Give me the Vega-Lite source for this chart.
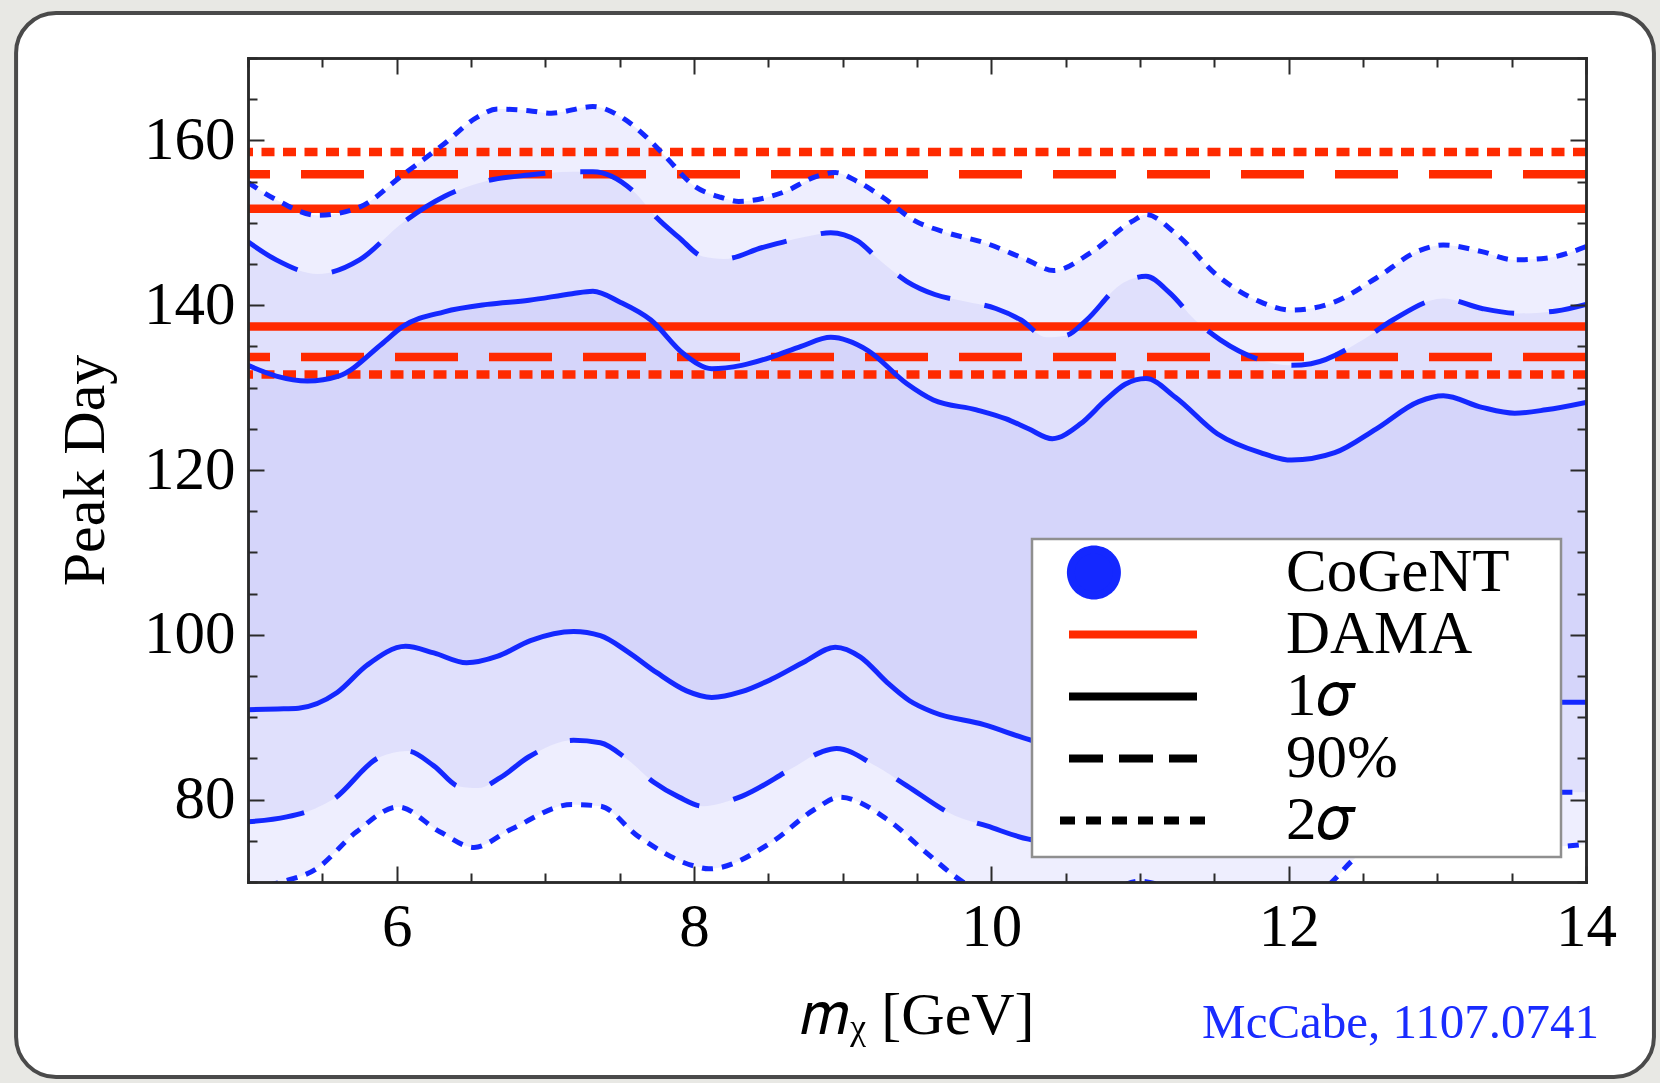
{
  "$schema": "https://vega.github.io/schema/vega-lite/v6.json",
  "width": 1338,
  "height": 824,
  "autosize": {"type": "none"},
  "padding": {"left": 248, "top": 58, "right": 74, "bottom": 201},
  "background": "#e8e8e4",
  "title": {
    "text": "McCabe, 1107.0741",
    "orient": "bottom",
    "anchor": "end",
    "frame": "group",
    "font": "Liberation Serif",
    "fontSize": 49,
    "fontWeight": "normal",
    "color": "#1a2cff",
    "offset": -80,
    "dx": 13,
    "zindex": 3
  },
  "datasets": {
    "cogent": [
      {"m": 5.0, "day": 154.9, "level": "2σ", "side": "upper"},
      {"m": 5.19, "day": 152.8, "level": "2σ", "side": "upper"},
      {"m": 5.47, "day": 150.9, "level": "2σ", "side": "upper"},
      {"m": 5.75, "day": 151.9, "level": "2σ", "side": "upper"},
      {"m": 6.04, "day": 155.8, "level": "2σ", "side": "upper"},
      {"m": 6.32, "day": 159.6, "level": "2σ", "side": "upper"},
      {"m": 6.54, "day": 162.8, "level": "2σ", "side": "upper"},
      {"m": 6.68, "day": 163.8, "level": "2σ", "side": "upper"},
      {"m": 6.89, "day": 163.6, "level": "2σ", "side": "upper"},
      {"m": 7.04, "day": 163.3, "level": "2σ", "side": "upper"},
      {"m": 7.32, "day": 164.1, "level": "2σ", "side": "upper"},
      {"m": 7.53, "day": 162.6, "level": "2σ", "side": "upper"},
      {"m": 7.68, "day": 160.4, "level": "2σ", "side": "upper"},
      {"m": 7.8, "day": 158.2, "level": "2σ", "side": "upper"},
      {"m": 8.0, "day": 154.5, "level": "2σ", "side": "upper"},
      {"m": 8.18, "day": 153.1, "level": "2σ", "side": "upper"},
      {"m": 8.3, "day": 152.6, "level": "2σ", "side": "upper"},
      {"m": 8.6, "day": 153.7, "level": "2σ", "side": "upper"},
      {"m": 8.82, "day": 155.6, "level": "2σ", "side": "upper"},
      {"m": 8.95, "day": 156.1, "level": "2σ", "side": "upper"},
      {"m": 9.1, "day": 155.0, "level": "2σ", "side": "upper"},
      {"m": 9.27, "day": 153.1, "level": "2σ", "side": "upper"},
      {"m": 9.48, "day": 150.3, "level": "2σ", "side": "upper"},
      {"m": 9.7, "day": 148.8, "level": "2σ", "side": "upper"},
      {"m": 9.95, "day": 147.6, "level": "2σ", "side": "upper"},
      {"m": 10.24, "day": 145.5, "level": "2σ", "side": "upper"},
      {"m": 10.42, "day": 144.2, "level": "2σ", "side": "upper"},
      {"m": 10.67, "day": 146.4, "level": "2σ", "side": "upper"},
      {"m": 10.95, "day": 150.2, "level": "2σ", "side": "upper"},
      {"m": 11.04, "day": 151.0, "level": "2σ", "side": "upper"},
      {"m": 11.24, "day": 148.7, "level": "2σ", "side": "upper"},
      {"m": 11.52, "day": 143.6, "level": "2σ", "side": "upper"},
      {"m": 11.81, "day": 140.4, "level": "2σ", "side": "upper"},
      {"m": 12.02, "day": 139.4, "level": "2σ", "side": "upper"},
      {"m": 12.31, "day": 140.4, "level": "2σ", "side": "upper"},
      {"m": 12.59, "day": 143.3, "level": "2σ", "side": "upper"},
      {"m": 12.875, "day": 146.6, "level": "2σ", "side": "upper"},
      {"m": 13.04, "day": 147.3, "level": "2σ", "side": "upper"},
      {"m": 13.3, "day": 146.5, "level": "2σ", "side": "upper"},
      {"m": 13.52, "day": 145.5, "level": "2σ", "side": "upper"},
      {"m": 13.73, "day": 145.7, "level": "2σ", "side": "upper"},
      {"m": 14.0, "day": 147.1, "level": "2σ", "side": "upper"},

      {"m": 5.0, "day": 147.7, "level": "90%", "side": "upper"},
      {"m": 5.19, "day": 145.5, "level": "90%", "side": "upper"},
      {"m": 5.47, "day": 143.8, "level": "90%", "side": "upper"},
      {"m": 5.75, "day": 145.5, "level": "90%", "side": "upper"},
      {"m": 6.04, "day": 150.0, "level": "90%", "side": "upper"},
      {"m": 6.32, "day": 153.2, "level": "90%", "side": "upper"},
      {"m": 6.61, "day": 155.1, "level": "90%", "side": "upper"},
      {"m": 6.89, "day": 155.8, "level": "90%", "side": "upper"},
      {"m": 7.18, "day": 156.2, "level": "90%", "side": "upper"},
      {"m": 7.32, "day": 156.2, "level": "90%", "side": "upper"},
      {"m": 7.6, "day": 153.7, "level": "90%", "side": "upper"},
      {"m": 7.75, "day": 150.6, "level": "90%", "side": "upper"},
      {"m": 7.9, "day": 148.2, "level": "90%", "side": "upper"},
      {"m": 8.06, "day": 145.9, "level": "90%", "side": "upper"},
      {"m": 8.2, "day": 145.6, "level": "90%", "side": "upper"},
      {"m": 8.46, "day": 147.0, "level": "90%", "side": "upper"},
      {"m": 8.75, "day": 148.3, "level": "90%", "side": "upper"},
      {"m": 8.92, "day": 148.8, "level": "90%", "side": "upper"},
      {"m": 9.1, "day": 147.8, "level": "90%", "side": "upper"},
      {"m": 9.24, "day": 145.6, "level": "90%", "side": "upper"},
      {"m": 9.43, "day": 142.9, "level": "90%", "side": "upper"},
      {"m": 9.62, "day": 141.3, "level": "90%", "side": "upper"},
      {"m": 9.81, "day": 140.5, "level": "90%", "side": "upper"},
      {"m": 10.03, "day": 139.6, "level": "90%", "side": "upper"},
      {"m": 10.2, "day": 138.2, "level": "90%", "side": "upper"},
      {"m": 10.37, "day": 136.1, "level": "90%", "side": "upper"},
      {"m": 10.5, "day": 136.3, "level": "90%", "side": "upper"},
      {"m": 10.64, "day": 138.2, "level": "90%", "side": "upper"},
      {"m": 10.87, "day": 142.5, "level": "90%", "side": "upper"},
      {"m": 11.04, "day": 143.5, "level": "90%", "side": "upper"},
      {"m": 11.2, "day": 141.5, "level": "90%", "side": "upper"},
      {"m": 11.37, "day": 138.2, "level": "90%", "side": "upper"},
      {"m": 11.54, "day": 135.8, "level": "90%", "side": "upper"},
      {"m": 11.91, "day": 132.9, "level": "90%", "side": "upper"},
      {"m": 12.02, "day": 132.7, "level": "90%", "side": "upper"},
      {"m": 12.15, "day": 132.9, "level": "90%", "side": "upper"},
      {"m": 12.5, "day": 135.8, "level": "90%", "side": "upper"},
      {"m": 12.7, "day": 138.2, "level": "90%", "side": "upper"},
      {"m": 13.04, "day": 140.8, "level": "90%", "side": "upper"},
      {"m": 13.3, "day": 139.6, "level": "90%", "side": "upper"},
      {"m": 13.55, "day": 139.0, "level": "90%", "side": "upper"},
      {"m": 13.8, "day": 139.3, "level": "90%", "side": "upper"},
      {"m": 14.0, "day": 140.1, "level": "90%", "side": "upper"},

      {"m": 5.0, "day": 132.7, "level": "1σ", "side": "upper"},
      {"m": 5.19, "day": 131.4, "level": "1σ", "side": "upper"},
      {"m": 5.4, "day": 130.8, "level": "1σ", "side": "upper"},
      {"m": 5.61, "day": 131.4, "level": "1σ", "side": "upper"},
      {"m": 5.9, "day": 135.3, "level": "1σ", "side": "upper"},
      {"m": 6.04, "day": 137.4, "level": "1σ", "side": "upper"},
      {"m": 6.32, "day": 139.2, "level": "1σ", "side": "upper"},
      {"m": 6.61, "day": 140.1, "level": "1σ", "side": "upper"},
      {"m": 6.89, "day": 140.6, "level": "1σ", "side": "upper"},
      {"m": 7.18, "day": 141.4, "level": "1σ", "side": "upper"},
      {"m": 7.32, "day": 141.7, "level": "1σ", "side": "upper"},
      {"m": 7.5, "day": 140.4, "level": "1σ", "side": "upper"},
      {"m": 7.71, "day": 138.2, "level": "1σ", "side": "upper"},
      {"m": 7.93, "day": 134.1, "level": "1σ", "side": "upper"},
      {"m": 8.12, "day": 132.3, "level": "1σ", "side": "upper"},
      {"m": 8.32, "day": 132.7, "level": "1σ", "side": "upper"},
      {"m": 8.52, "day": 133.7, "level": "1σ", "side": "upper"},
      {"m": 8.72, "day": 135.0, "level": "1σ", "side": "upper"},
      {"m": 8.92, "day": 136.1, "level": "1σ", "side": "upper"},
      {"m": 9.17, "day": 134.5, "level": "1σ", "side": "upper"},
      {"m": 9.43, "day": 130.5, "level": "1σ", "side": "upper"},
      {"m": 9.61, "day": 128.5, "level": "1σ", "side": "upper"},
      {"m": 9.9, "day": 127.3, "level": "1σ", "side": "upper"},
      {"m": 10.1, "day": 126.2, "level": "1σ", "side": "upper"},
      {"m": 10.25, "day": 125.0, "level": "1σ", "side": "upper"},
      {"m": 10.41, "day": 123.8, "level": "1σ", "side": "upper"},
      {"m": 10.6, "day": 125.6, "level": "1σ", "side": "upper"},
      {"m": 10.77, "day": 128.5, "level": "1σ", "side": "upper"},
      {"m": 10.9, "day": 130.4, "level": "1σ", "side": "upper"},
      {"m": 11.04, "day": 131.1, "level": "1σ", "side": "upper"},
      {"m": 11.24, "day": 128.8, "level": "1σ", "side": "upper"},
      {"m": 11.52, "day": 124.4, "level": "1σ", "side": "upper"},
      {"m": 11.81, "day": 122.1, "level": "1σ", "side": "upper"},
      {"m": 12.02, "day": 121.2, "level": "1σ", "side": "upper"},
      {"m": 12.31, "day": 122.1, "level": "1σ", "side": "upper"},
      {"m": 12.59, "day": 125.0, "level": "1σ", "side": "upper"},
      {"m": 12.875, "day": 128.3, "level": "1σ", "side": "upper"},
      {"m": 13.04, "day": 129.0, "level": "1σ", "side": "upper"},
      {"m": 13.3, "day": 127.6, "level": "1σ", "side": "upper"},
      {"m": 13.52, "day": 126.9, "level": "1σ", "side": "upper"},
      {"m": 13.73, "day": 127.3, "level": "1σ", "side": "upper"},
      {"m": 14.0, "day": 128.2, "level": "1σ", "side": "upper"},

      {"m": 5.0, "day": 90.9, "level": "1σ", "side": "lower"},
      {"m": 5.2, "day": 91.0, "level": "1σ", "side": "lower"},
      {"m": 5.34, "day": 91.1, "level": "1σ", "side": "lower"},
      {"m": 5.6, "day": 93.0, "level": "1σ", "side": "lower"},
      {"m": 5.8, "day": 96.3, "level": "1σ", "side": "lower"},
      {"m": 6.06, "day": 98.6, "level": "1σ", "side": "lower"},
      {"m": 6.25, "day": 97.8, "level": "1σ", "side": "lower"},
      {"m": 6.47, "day": 96.6, "level": "1σ", "side": "lower"},
      {"m": 6.68, "day": 97.4, "level": "1σ", "side": "lower"},
      {"m": 6.9, "day": 99.3, "level": "1σ", "side": "lower"},
      {"m": 7.19, "day": 100.4, "level": "1σ", "side": "lower"},
      {"m": 7.37, "day": 99.9, "level": "1σ", "side": "lower"},
      {"m": 7.55, "day": 98.0, "level": "1σ", "side": "lower"},
      {"m": 7.75, "day": 95.4, "level": "1σ", "side": "lower"},
      {"m": 7.95, "day": 93.2, "level": "1σ", "side": "lower"},
      {"m": 8.12, "day": 92.4, "level": "1σ", "side": "lower"},
      {"m": 8.32, "day": 93.1, "level": "1σ", "side": "lower"},
      {"m": 8.52, "day": 94.6, "level": "1σ", "side": "lower"},
      {"m": 8.75, "day": 96.8, "level": "1σ", "side": "lower"},
      {"m": 8.95, "day": 98.5, "level": "1σ", "side": "lower"},
      {"m": 9.12, "day": 97.3, "level": "1σ", "side": "lower"},
      {"m": 9.3, "day": 94.2, "level": "1σ", "side": "lower"},
      {"m": 9.45, "day": 92.0, "level": "1σ", "side": "lower"},
      {"m": 9.61, "day": 90.6, "level": "1σ", "side": "lower"},
      {"m": 9.95, "day": 89.1, "level": "1σ", "side": "lower"},
      {"m": 10.25, "day": 87.3, "level": "1σ", "side": "lower"},
      {"m": 10.45, "day": 86.3, "level": "1σ", "side": "lower"},
      {"m": 10.8, "day": 87.8, "level": "1σ", "side": "lower"},
      {"m": 11.05, "day": 88.8, "level": "1σ", "side": "lower"},
      {"m": 11.5, "day": 87.0, "level": "1σ", "side": "lower"},
      {"m": 12.0, "day": 85.8, "level": "1σ", "side": "lower"},
      {"m": 12.5, "day": 87.5, "level": "1σ", "side": "lower"},
      {"m": 13.0, "day": 90.2, "level": "1σ", "side": "lower"},
      {"m": 13.5, "day": 91.3, "level": "1σ", "side": "lower"},
      {"m": 13.79, "day": 91.8, "level": "1σ", "side": "lower"},
      {"m": 14.0, "day": 91.8, "level": "1σ", "side": "lower"},

      {"m": 5.0, "day": 77.3, "level": "90%", "side": "lower"},
      {"m": 5.26, "day": 77.9, "level": "90%", "side": "lower"},
      {"m": 5.45, "day": 78.9, "level": "90%", "side": "lower"},
      {"m": 5.57, "day": 80.0, "level": "90%", "side": "lower"},
      {"m": 5.88, "day": 85.1, "level": "90%", "side": "lower"},
      {"m": 6.07, "day": 85.9, "level": "90%", "side": "lower"},
      {"m": 6.25, "day": 84.1, "level": "90%", "side": "lower"},
      {"m": 6.42, "day": 81.6, "level": "90%", "side": "lower"},
      {"m": 6.55, "day": 81.4, "level": "90%", "side": "lower"},
      {"m": 6.7, "day": 82.7, "level": "90%", "side": "lower"},
      {"m": 6.89, "day": 85.2, "level": "90%", "side": "lower"},
      {"m": 7.19, "day": 87.2, "level": "90%", "side": "lower"},
      {"m": 7.37, "day": 86.9, "level": "90%", "side": "lower"},
      {"m": 7.55, "day": 84.9, "level": "90%", "side": "lower"},
      {"m": 7.73, "day": 82.1, "level": "90%", "side": "lower"},
      {"m": 7.9, "day": 80.3, "level": "90%", "side": "lower"},
      {"m": 8.06, "day": 79.2, "level": "90%", "side": "lower"},
      {"m": 8.32, "day": 80.4, "level": "90%", "side": "lower"},
      {"m": 8.65, "day": 83.7, "level": "90%", "side": "lower"},
      {"m": 8.86, "day": 85.8, "level": "90%", "side": "lower"},
      {"m": 8.96, "day": 86.2, "level": "90%", "side": "lower"},
      {"m": 9.22, "day": 84.1, "level": "90%", "side": "lower"},
      {"m": 9.43, "day": 81.7, "level": "90%", "side": "lower"},
      {"m": 9.76, "day": 78.0, "level": "90%", "side": "lower"},
      {"m": 9.97, "day": 76.8, "level": "90%", "side": "lower"},
      {"m": 10.25, "day": 75.2, "level": "90%", "side": "lower"},
      {"m": 10.45, "day": 74.8, "level": "90%", "side": "lower"},
      {"m": 10.8, "day": 76.0, "level": "90%", "side": "lower"},
      {"m": 11.05, "day": 77.0, "level": "90%", "side": "lower"},
      {"m": 11.5, "day": 75.5, "level": "90%", "side": "lower"},
      {"m": 12.0, "day": 74.6, "level": "90%", "side": "lower"},
      {"m": 12.5, "day": 76.5, "level": "90%", "side": "lower"},
      {"m": 13.0, "day": 79.8, "level": "90%", "side": "lower"},
      {"m": 13.5, "day": 80.6, "level": "90%", "side": "lower"},
      {"m": 13.79, "day": 80.9, "level": "90%", "side": "lower"},
      {"m": 14.0, "day": 80.9, "level": "90%", "side": "lower"},

      {"m": 5.0, "day": 69.0, "level": "2σ", "side": "lower"},
      {"m": 5.2, "day": 69.9, "level": "2σ", "side": "lower"},
      {"m": 5.46, "day": 71.6, "level": "2σ", "side": "lower"},
      {"m": 5.73, "day": 76.1, "level": "2σ", "side": "lower"},
      {"m": 6.01, "day": 79.1, "level": "2σ", "side": "lower"},
      {"m": 6.29, "day": 76.1, "level": "2σ", "side": "lower"},
      {"m": 6.52, "day": 74.2, "level": "2σ", "side": "lower"},
      {"m": 6.77, "day": 76.4, "level": "2σ", "side": "lower"},
      {"m": 7.18, "day": 79.4, "level": "2σ", "side": "lower"},
      {"m": 7.37, "day": 79.2, "level": "2σ", "side": "lower"},
      {"m": 7.62, "day": 75.6, "level": "2σ", "side": "lower"},
      {"m": 8.01, "day": 71.9, "level": "2σ", "side": "lower"},
      {"m": 8.1, "day": 71.6, "level": "2σ", "side": "lower"},
      {"m": 8.52, "day": 74.8, "level": "2σ", "side": "lower"},
      {"m": 8.81, "day": 78.8, "level": "2σ", "side": "lower"},
      {"m": 8.98, "day": 80.3, "level": "2σ", "side": "lower"},
      {"m": 9.3, "day": 77.6, "level": "2σ", "side": "lower"},
      {"m": 9.56, "day": 73.6, "level": "2σ", "side": "lower"},
      {"m": 9.81, "day": 70.0, "level": "2σ", "side": "lower"},
      {"m": 10.1, "day": 67.8, "level": "2σ", "side": "lower"},
      {"m": 10.4, "day": 67.0, "level": "2σ", "side": "lower"},
      {"m": 10.75, "day": 68.5, "level": "2σ", "side": "lower"},
      {"m": 11.0, "day": 70.1, "level": "2σ", "side": "lower"},
      {"m": 11.3, "day": 68.5, "level": "2σ", "side": "lower"},
      {"m": 11.7, "day": 66.5, "level": "2σ", "side": "lower"},
      {"m": 12.0, "day": 66.2, "level": "2σ", "side": "lower"},
      {"m": 12.29, "day": 70.0, "level": "2σ", "side": "lower"},
      {"m": 12.44, "day": 72.8, "level": "2σ", "side": "lower"},
      {"m": 12.7, "day": 75.5, "level": "2σ", "side": "lower"},
      {"m": 13.0, "day": 77.0, "level": "2σ", "side": "lower"},
      {"m": 13.2, "day": 76.8, "level": "2σ", "side": "lower"},
      {"m": 13.5, "day": 75.0, "level": "2σ", "side": "lower"},
      {"m": 13.79, "day": 74.3, "level": "2σ", "side": "lower"},
      {"m": 14.0, "day": 74.6, "level": "2σ", "side": "lower"}
    ],
    "dama": [
      {"level": "1σ", "day": 151.7},
      {"level": "1σ", "day": 137.4},
      {"level": "90%", "day": 155.9},
      {"level": "90%", "day": 133.7},
      {"level": "2σ", "day": 158.6},
      {"level": "2σ", "day": 131.6}
    ],
    "keys": [
      {"key": "CoGeNT"},
      {"key": "DAMA"},
      {"key": "1σ"},
      {"key": "90%"},
      {"key": "2σ"}
    ]
  },
  "layer": [
    {
      "data": {"values": [{"part": "panel"}]},
      "mark": {"type": "rect", "fill": "#ffffff", "stroke": "#4a4a4a", "strokeWidth": 4, "cornerRadius": 40, "clip": false},
      "encoding": {
        "x": {"datum": 3.44, "type": "quantitative", "scale": {"domain": [5, 14], "nice": false, "zero": false}, "axis": null},
        "x2": {"datum": 14.457},
        "y": {"datum": 175.46, "type": "quantitative", "scale": {"domain": [70, 170], "nice": false, "zero": false}, "axis": null},
        "y2": {"datum": 46.33}
      }
    },
    {
      "data": {"name": "cogent"},
      "transform": [{"filter": "datum.level === '2σ' && datum.side === 'upper'"}],
      "mark": {"type": "area", "color": "#eeeefe", "opacity": 1, "interpolate": "monotone", "clip": true},
      "encoding": {
        "x": {
          "field": "m", "type": "quantitative",
          "scale": {"domain": [5, 14], "nice": false, "zero": false},
          "axis": {
            "orient": "bottom",
            "values": [6, 8, 10, 12, 14],
            "tickSize": -16,
            "labelPadding": 31,
            "title": "𝑚ᵪ [GeV]",
            "titleFontSize": 60,
            "titlePadding": 29,
            "zindex": 2
          }
        },
        "y": {
          "field": "day", "type": "quantitative",
          "scale": {"domain": [70, 170], "nice": false, "zero": false},
          "axis": {
            "orient": "left",
            "values": [80, 100, 120, 140, 160],
            "tickSize": -16,
            "labelPadding": 29,
            "title": "Peak Day",
            "titleFontSize": 60,
            "titlePadding": 27,
            "zindex": 2
          }
        },
        "y2": {"datum": 50}
      }
    },
    {
      "data": {"name": "cogent"},
      "transform": [{"filter": "datum.level === '90%' && datum.side === 'upper'"}],
      "mark": {"type": "area", "color": "#e0e0fc", "opacity": 1, "interpolate": "monotone", "clip": true},
      "encoding": {
        "x": {
          "field": "m", "type": "quantitative",
          "scale": {"domain": [5, 14], "nice": false, "zero": false},
          "axis": {"orient": "top", "values": [6, 8, 10, 12, 14], "tickSize": -16, "labels": false, "title": null, "zindex": 2}
        },
        "y": {
          "field": "day", "type": "quantitative",
          "scale": {"domain": [70, 170], "nice": false, "zero": false},
          "axis": {"orient": "right", "values": [80, 100, 120, 140, 160], "tickSize": -16, "labels": false, "title": null, "zindex": 2}
        },
        "y2": {"datum": 50}
      }
    },
    {
      "data": {"name": "cogent"},
      "transform": [{"filter": "datum.level === '1σ' && datum.side === 'upper'"}],
      "mark": {"type": "area", "color": "#d5d5fa", "opacity": 1, "interpolate": "monotone", "clip": true},
      "encoding": {
        "x": {
          "field": "m", "type": "quantitative",
          "scale": {"domain": [5, 14], "nice": false, "zero": false},
          "axis": {"orient": "bottom", "values": [5, 5.5, 6.5, 7, 7.5, 8.5, 9, 9.5, 10.5, 11, 11.5, 12.5, 13, 13.5], "tickSize": -9, "labels": false, "title": null, "zindex": 2}
        },
        "y": {
          "field": "day", "type": "quantitative",
          "scale": {"domain": [70, 170], "nice": false, "zero": false},
          "axis": {"orient": "left", "values": [70, 75, 85, 90, 95, 105, 110, 115, 125, 130, 135, 145, 150, 155, 165, 170], "tickSize": -9, "labels": false, "title": null, "zindex": 2}
        },
        "y2": {"datum": 50}
      }
    },
    {
      "data": {"name": "cogent"},
      "transform": [{"filter": "datum.level === '1σ' && datum.side === 'lower'"}],
      "mark": {"type": "area", "color": "#e0e0fc", "opacity": 1, "interpolate": "monotone", "clip": true},
      "encoding": {
        "x": {
          "field": "m", "type": "quantitative",
          "scale": {"domain": [5, 14], "nice": false, "zero": false},
          "axis": {"orient": "top", "values": [5, 5.5, 6.5, 7, 7.5, 8.5, 9, 9.5, 10.5, 11, 11.5, 12.5, 13, 13.5], "tickSize": -9, "labels": false, "title": null, "zindex": 2}
        },
        "y": {
          "field": "day", "type": "quantitative",
          "scale": {"domain": [70, 170], "nice": false, "zero": false},
          "axis": {"orient": "right", "values": [70, 75, 85, 90, 95, 105, 110, 115, 125, 130, 135, 145, 150, 155, 165, 170], "tickSize": -9, "labels": false, "title": null, "zindex": 2}
        },
        "y2": {"datum": 50}
      }
    },
    {
      "data": {"name": "cogent"},
      "transform": [{"filter": "datum.level === '90%' && datum.side === 'lower'"}],
      "mark": {"type": "area", "color": "#eeeefe", "opacity": 1, "interpolate": "monotone", "clip": true},
      "encoding": {
        "x": {"field": "m", "type": "quantitative", "scale": {"domain": [5, 14], "nice": false, "zero": false}, "axis": null},
        "y": {"field": "day", "type": "quantitative", "scale": {"domain": [70, 170], "nice": false, "zero": false}, "axis": null},
        "y2": {"datum": 50}
      }
    },
    {
      "data": {"name": "cogent"},
      "transform": [{"filter": "datum.level === '2σ' && datum.side === 'lower'"}],
      "mark": {"type": "area", "color": "#ffffff", "opacity": 1, "interpolate": "monotone", "clip": true},
      "encoding": {
        "x": {"field": "m", "type": "quantitative", "scale": {"domain": [5, 14], "nice": false, "zero": false}, "axis": null},
        "y": {"field": "day", "type": "quantitative", "scale": {"domain": [70, 170], "nice": false, "zero": false}, "axis": null},
        "y2": {"datum": 50}
      }
    },
    {
      "data": {"name": "dama"},
      "transform": [{"filter": "datum.level === '1σ'"}],
      "mark": {"type": "rule", "color": "#ff2a00", "strokeWidth": 8.5, "strokeCap": "butt", "clip": true},
      "encoding": {"y": {"field": "day", "type": "quantitative", "scale": {"domain": [70, 170], "nice": false, "zero": false}, "axis": null}}
    },
    {
      "data": {"name": "dama"},
      "transform": [{"filter": "datum.level === '90%'"}],
      "mark": {"type": "rule", "color": "#ff2a00", "strokeWidth": 8.5, "strokeCap": "butt", "strokeDash": [63, 31], "clip": true},
      "encoding": {"y": {"field": "day", "type": "quantitative", "scale": {"domain": [70, 170], "nice": false, "zero": false}, "axis": null}}
    },
    {
      "data": {"name": "dama"},
      "transform": [{"filter": "datum.level === '2σ'"}],
      "mark": {"type": "rule", "color": "#ff2a00", "strokeWidth": 8.5, "strokeCap": "butt", "strokeDash": [13, 8.5], "clip": true},
      "encoding": {"y": {"field": "day", "type": "quantitative", "scale": {"domain": [70, 170], "nice": false, "zero": false}, "axis": null}}
    },
    {
      "data": {"name": "cogent"},
      "transform": [{"filter": "datum.level === '1σ'"}],
      "mark": {"type": "line", "color": "#1428ff", "strokeWidth": 5, "strokeCap": "butt", "interpolate": "monotone", "clip": true},
      "encoding": {
        "x": {"field": "m", "type": "quantitative", "scale": {"domain": [5, 14], "nice": false, "zero": false}, "axis": null},
        "y": {"field": "day", "type": "quantitative", "scale": {"domain": [70, 170], "nice": false, "zero": false}, "axis": null},
        "detail": {"field": "side", "type": "nominal"}
      }
    },
    {
      "data": {"name": "cogent"},
      "transform": [{"filter": "datum.level === '90%'"}],
      "mark": {"type": "line", "color": "#1428ff", "strokeWidth": 5, "strokeCap": "butt", "strokeDash": [57, 35], "interpolate": "monotone", "clip": true},
      "encoding": {
        "x": {"field": "m", "type": "quantitative", "scale": {"domain": [5, 14], "nice": false, "zero": false}, "axis": null},
        "y": {"field": "day", "type": "quantitative", "scale": {"domain": [70, 170], "nice": false, "zero": false}, "axis": null},
        "detail": {"field": "side", "type": "nominal"}
      }
    },
    {
      "data": {"name": "cogent"},
      "transform": [{"filter": "datum.level === '2σ'"}],
      "mark": {"type": "line", "color": "#1428ff", "strokeWidth": 5, "strokeCap": "butt", "strokeDash": [11, 9], "interpolate": "monotone", "clip": true},
      "encoding": {
        "x": {"field": "m", "type": "quantitative", "scale": {"domain": [5, 14], "nice": false, "zero": false}, "axis": null},
        "y": {"field": "day", "type": "quantitative", "scale": {"domain": [70, 170], "nice": false, "zero": false}, "axis": null},
        "detail": {"field": "side", "type": "nominal"}
      }
    },
    {
      "data": {"name": "keys"},
      "mark": {"type": "point", "filled": true, "opacity": 0, "strokeWidth": 8},
      "encoding": {
        "fill": {
          "field": "key", "type": "nominal",
          "scale": {"domain": ["CoGeNT", "DAMA", "1σ", "90%", "2σ"], "range": ["#1428ff", "#ff2a00", "#000000", "#000000", "#000000"]},
          "legend": {
            "title": null, "orient": "bottom-right", "offset": 25, "padding": 6,
            "fillColor": "#ffffff", "strokeColor": "#8f8f8f",
            "labelFont": "Liberation Serif", "labelFontSize": 61, "labelColor": "#000000",
            "labelOffset": 76, "labelLimit": 600, "labelExpr": "replace(datum.label, 'σ', '𝜎') + '\u2800'",
            "symbolOffset": 18, "symbolStrokeWidth": 8, "symbolOpacity": 1,
            "clipHeight": 55, "rowPadding": 0, "zindex": 5
          }
        },
        "stroke": {
          "field": "key", "type": "nominal",
          "scale": {"domain": ["CoGeNT", "DAMA", "1σ", "90%", "2σ"], "range": ["#1428ff", "#ff2a00", "#000000", "#000000", "#000000"]},
          "legend": {
            "title": null, "orient": "bottom-right", "offset": 25, "padding": 6,
            "fillColor": "#ffffff", "strokeColor": "#8f8f8f",
            "labelFont": "Liberation Serif", "labelFontSize": 61, "labelColor": "#000000",
            "labelOffset": 76, "labelLimit": 600, "labelExpr": "replace(datum.label, 'σ', '𝜎') + '\u2800'",
            "symbolOffset": 18, "symbolStrokeWidth": 8, "symbolOpacity": 1,
            "clipHeight": 55, "rowPadding": 0, "zindex": 5
          }
        },
        "shape": {
          "field": "key", "type": "nominal",
          "scale": {"domain": ["CoGeNT", "DAMA", "1σ", "90%", "2σ"], "range": ["M -2.7,0 A 1,1 0 1,1 -0.7,0 A 1,1 0 1,1 -2.7,0 Z", "stroke", "stroke", "stroke", "stroke"]},
          "legend": {
            "title": null, "orient": "bottom-right", "offset": 25, "padding": 6,
            "fillColor": "#ffffff", "strokeColor": "#8f8f8f",
            "labelFont": "Liberation Serif", "labelFontSize": 61, "labelColor": "#000000",
            "labelOffset": 76, "labelLimit": 600, "labelExpr": "replace(datum.label, 'σ', '𝜎') + '\u2800'",
            "symbolOffset": 18, "symbolStrokeWidth": 8, "symbolOpacity": 1,
            "clipHeight": 55, "rowPadding": 0, "zindex": 5
          }
        },
        "strokeDash": {
          "field": "key", "type": "nominal",
          "scale": {"domain": ["CoGeNT", "DAMA", "1σ", "90%", "2σ"], "range": [[1, 0], [1, 0], [1, 0], [34, 16], [15, 11]]},
          "legend": {
            "title": null, "orient": "bottom-right", "offset": 25, "padding": 6,
            "fillColor": "#ffffff", "strokeColor": "#8f8f8f",
            "labelFont": "Liberation Serif", "labelFontSize": 61, "labelColor": "#000000",
            "labelOffset": 76, "labelLimit": 600, "labelExpr": "replace(datum.label, 'σ', '𝜎') + '\u2800'",
            "symbolOffset": 18, "symbolStrokeWidth": 8, "symbolOpacity": 1,
            "clipHeight": 55, "rowPadding": 0, "zindex": 5
          }
        },
        "size": {
          "field": "key", "type": "nominal",
          "scale": {"type": "ordinal", "domain": ["CoGeNT", "DAMA", "1σ", "90%", "2σ"], "range": [2116, 16384, 16384, 16384, 21316]},
          "legend": {
            "title": null, "orient": "bottom-right", "offset": 25, "padding": 6,
            "fillColor": "#ffffff", "strokeColor": "#8f8f8f",
            "labelFont": "Liberation Serif", "labelFontSize": 61, "labelColor": "#000000",
            "labelOffset": 76, "labelLimit": 600, "labelExpr": "replace(datum.label, 'σ', '𝜎') + '\u2800'",
            "symbolOffset": 18, "symbolStrokeWidth": 8, "symbolOpacity": 1,
            "clipHeight": 55, "rowPadding": 0, "zindex": 5
          }
        }
      }
    }
  ],
  "config": {
    "view": {"stroke": null},
    "legend": {"strokeWidth": 2.5},
    "axis": {
      "grid": false,
      "domainColor": "#2a2a2a",
      "domainWidth": 2.5,
      "domainCap": "square",
      "tickColor": "#2a2a2a",
      "tickWidth": 2,
      "labelFont": "Liberation Serif",
      "labelFontSize": 61,
      "labelColor": "#000000",
      "labelFlush": false,
      "labelOverlap": false,
      "labelBound": false,
      "titleFont": "Liberation Serif",
      "titleFontSize": 60,
      "titleFontWeight": "normal",
      "titleColor": "#000000"
    }
  }
}
